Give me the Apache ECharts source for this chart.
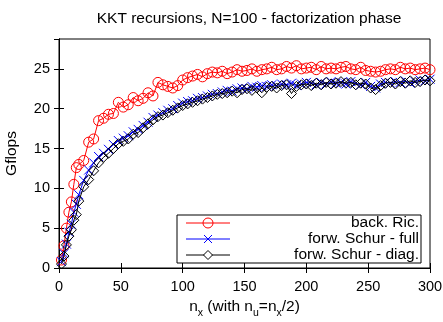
<!DOCTYPE html>
<html><head><meta charset="utf-8">
<script src="https://cdn.jsdelivr.net/npm/echarts@6/dist/echarts.min.js"></script>
<style>html,body{margin:0;padding:0;background:#fff}#c{width:443px;height:322px}</style>
</head><body><div id="c"></div>
<script>
var nx = [2,4,6,8,10,12,14,16,20,24,28,32,36,40,44,48,52,56,60,64,68,72,76,80,84,88,92,96,100,104,108,112,116,120,124,128,132,136,140,144,148,152,156,160,164,168,172,176,180,184,188,192,196,200,204,208,212,216,220,224,228,232,236,240,244,248,252,256,260,264,268,272,276,280,284,288,292,296,300];
var backRic = [1.0,2.8,5.0,7.0,8.3,10.5,12.6,13.0,13.5,15.8,16.2,18.5,18.8,19.3,19.4,20.8,20.2,20.5,21.4,21.0,21.3,22.0,21.6,23.3,23.0,22.8,22.6,22.9,23.6,23.9,24.1,24.3,24.0,24.4,24.6,24.5,24.7,24.4,24.6,24.9,24.7,24.8,25.0,24.7,24.9,25.0,25.2,24.9,25.0,25.3,25.1,25.4,25.0,25.1,25.2,24.9,25.3,25.0,25.1,25.0,25.2,25.3,25.0,24.9,25.2,24.8,24.7,24.6,24.7,24.9,25.0,24.9,25.2,25.0,25.1,24.9,25.0,25.1,24.9];
var schurFull = [0.8,1.8,3.0,4.5,5.5,7.0,8.0,9.2,11.0,12.3,13.2,14.0,14.4,14.9,15.5,16.0,16.3,16.6,17.1,17.4,17.9,18.3,18.9,19.2,19.5,19.8,20.0,20.4,20.7,20.9,21.0,21.3,21.4,21.6,21.8,21.9,22.1,22.3,22.2,22.5,22.6,22.5,22.8,22.7,22.9,22.8,23.0,22.9,23.1,23.0,23.2,22.9,23.1,23.3,23.2,23.0,23.3,23.1,23.4,23.2,23.3,23.1,23.4,23.2,23.0,23.3,22.8,22.6,23.1,23.3,23.2,23.4,23.3,23.5,23.2,23.4,23.6,23.5,23.7];
var schurDiag = [0.5,1.5,2.9,4.0,4.8,6.0,6.7,8.4,10.2,11.1,12.2,13.2,13.9,14.4,15.0,15.6,15.9,16.2,16.8,17.0,17.6,18.1,18.6,19.0,19.2,19.5,19.8,20.1,20.4,20.6,20.8,21.0,21.2,21.4,21.6,21.8,21.9,22.0,22.2,22.0,22.4,22.5,22.3,22.6,22.0,22.7,22.8,22.6,22.9,23.0,21.9,22.8,23.0,23.1,22.9,23.2,23.0,23.3,23.1,23.2,23.4,23.2,23.3,23.0,23.2,23.1,22.6,22.4,22.9,23.2,23.3,23.1,23.4,23.2,23.5,23.3,23.4,23.6,23.5];
var seriesNames = ['back. Ric.', 'forw. Schur - full', 'forw. Schur - diag.'];
var xTicks = [0,50,100,150,200,250,300];
var yTicks = [0,5,10,15,20,25];

function pairs(ys){ return nx.map(function(x,i){ return [x, ys[i]]; }); }
var FONT = "'Liberation Sans', Arial, sans-serif";
var crossPath = 'path://M0,0L10,10M10,0L0,10';

var chart = echarts.init(document.getElementById('c'), null, {renderer:'canvas'});
var tickStyle = {show:true, inside:true, length:5, lineStyle:{color:'#000', width:1}};
var option = {
  animation:false,
  backgroundColor:'#fff',
  title:{text:'KKT recursions, N=100 - factorization phase', left:244, textAlign:'center', top:6,
    textStyle:{fontFamily:FONT, fontSize:15.5, fontWeight:'normal', color:'#000'}},
  grid:{left:59, right:13, top:39, bottom:54, show:true, borderColor:'#000', borderWidth:1, backgroundColor:'transparent', containLabel:false, outerBoundsMode:'none'},
  xAxis:[{type:'value', min:0, max:300, interval:50, position:'bottom',
    axisLine:{show:true, lineStyle:{color:'#000', width:1}}, axisTick:tickStyle, splitLine:{show:false},
    axisLabel:{fontFamily:FONT, fontSize:14.5, color:'#000', margin:11},
    name:'{a|n}{s|x}{a| (with n}{s|u}{a|=n}{s|x}{a|/2)}', nameLocation:'middle', nameGap:31,
    nameTextStyle:{rich:{a:{fontFamily:FONT, fontSize:15.5, color:'#000', lineHeight:19, verticalAlign:'top'},
                         s:{fontFamily:FONT, fontSize:10.5, color:'#000', lineHeight:19, padding:[9,0,0,0], verticalAlign:'top'}}}},
    {type:'value', min:0, max:300, interval:50, position:'top',
    axisLine:{show:true, lineStyle:{color:'#000'}}, axisTick:tickStyle, axisLabel:{show:false}, splitLine:{show:false}}],
  yAxis:[{type:'value', min:0, max:28.75, interval:5, position:'left',
    axisLine:{show:true, lineStyle:{color:'#000'}}, axisTick:tickStyle, splitLine:{show:false},
    axisLabel:{fontFamily:FONT, fontSize:14.5, color:'#000', margin:9, showMaxLabel:false,
      formatter:function(v){ return yTicks.indexOf(v)>=0 ? String(v) : ''; }},
    name:'Gflops', nameLocation:'middle', nameGap:39, nameRotate:90,
    nameTextStyle:{fontFamily:FONT, fontSize:15.5, color:'#000'}},
    {type:'value', min:0, max:28.75, interval:5, position:'right',
    axisLine:{show:true, lineStyle:{color:'#000'}}, axisTick:tickStyle, axisLabel:{show:false}, splitLine:{show:false}}],
  series:[
    {name:seriesNames[0], type:'line', data:pairs(backRic), symbol:'circle', symbolSize:10,
      lineStyle:{color:'#ff0000', width:1}, itemStyle:{color:'transparent', borderColor:'#ff0000', borderWidth:1}, z:3},
    {name:seriesNames[1], type:'line', data:pairs(schurFull), symbol:crossPath, symbolSize:9,
      lineStyle:{color:'#0000ff', width:1}, itemStyle:{color:'transparent', borderColor:'#0000ff', borderWidth:1}, z:4},
    {name:seriesNames[2], type:'line', data:pairs(schurDiag), symbol:'diamond', symbolSize:10,
      lineStyle:{color:'#000', width:1}, itemStyle:{color:'transparent', borderColor:'#000', borderWidth:1}, z:5}
  ],
  graphic:[
    {type:'rect', shape:{x:177, y:215, width:244, height:48}, style:{fill:'#fff', stroke:'#000', lineWidth:1}, z:10},
    {type:'line', shape:{x1:186,y1:223,x2:230,y2:223}, style:{stroke:'#ff0000', lineWidth:1}, z:11},
    {type:'circle', shape:{cx:208, cy:223, r:5}, style:{fill:'none', stroke:'#ff0000', lineWidth:1}, z:11},
    {type:'line', shape:{x1:186,y1:239,x2:230,y2:239}, style:{stroke:'#0000ff', lineWidth:1}, z:11},
    {type:'line', shape:{x1:204,y1:235,x2:212,y2:243}, style:{stroke:'#0000ff', lineWidth:1}, z:11},
    {type:'line', shape:{x1:212,y1:235,x2:204,y2:243}, style:{stroke:'#0000ff', lineWidth:1}, z:11},
    {type:'line', shape:{x1:186,y1:255,x2:230,y2:255}, style:{stroke:'#000', lineWidth:1}, z:11},
    {type:'polygon', shape:{points:[[208,250.5],[212.5,255],[208,259.5],[203.5,255]]}, style:{fill:'#fff', stroke:'#000', lineWidth:1}, z:11},
    {type:'text', x:419, y:223, style:{text:seriesNames[0], font:"15.5px "+FONT, fill:'#000', align:'right', verticalAlign:'middle'}, z:11},
    {type:'text', x:419, y:239, style:{text:seriesNames[1], font:"15.5px "+FONT, fill:'#000', align:'right', verticalAlign:'middle'}, z:11},
    {type:'text', x:419, y:255, style:{text:seriesNames[2], font:"15.5px "+FONT, fill:'#000', align:'right', verticalAlign:'middle'}, z:11}
  ]
};
chart.setOption(option);
</script></body></html>
